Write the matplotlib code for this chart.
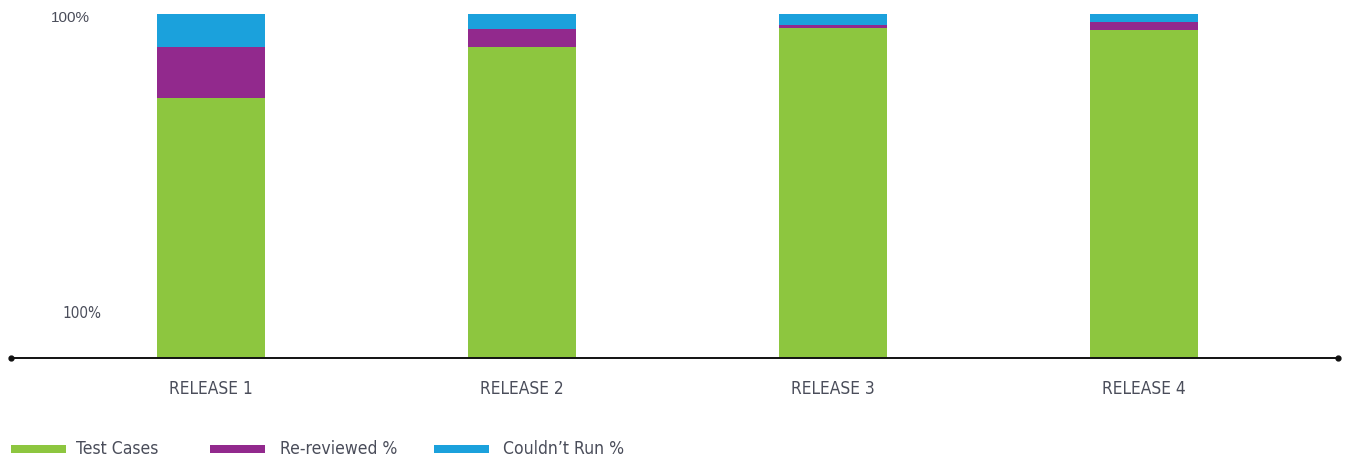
import matplotlib
matplotlib.use("Agg")
import matplotlib.pyplot as plt
from matplotlib.patches import Rectangle

# Release results, share of all cases (%)
releases = ["RELEASE 1", "RELEASE 2", "RELEASE 3", "RELEASE 4"]
test_cases = [75.6, 90.4, 95.9, 95.3]
re_reviewed = [14.8, 5.2, 0.9, 2.3]
couldnt_run = [9.6, 4.4, 3.2, 2.4]

series_names = ["Test Cases", "Re-reviewed %", "Couldn\u2019t Run %"]
colors = ["#8DC63F", "#92298D", "#1BA1DC"]
text_color = "#4A4D5A"

W, H = 1346, 459
fig = plt.figure(figsize=(W / 100, H / 100), dpi=100)

# axes: baseline at y=358 px, 100% at y=14 px, x from 11 to 1338 px
ax = fig.add_axes([11 / W, (H - 358) / H, (1338 - 11) / W, (358 - 14) / H])
ax.set_ylim(0, 100)
ax.set_xlim(-0.643, 3.624)

x = list(range(len(releases)))
bar_w = 108 / 311
bottom = [0] * len(releases)
for vals, col in zip([test_cases, re_reviewed, couldnt_run], colors):
    ax.bar(x, vals, width=bar_w, bottom=bottom, color=col, linewidth=0, zorder=2)
    bottom = [b + v for b, v in zip(bottom, vals)]

for s in ["top", "right", "left", "bottom"]:
    ax.spines[s].set_visible(False)
ax.set_yticks([])
ax.set_xticks(x)
ax.set_xticklabels(releases, fontsize=12.4, color=text_color,
                   family="DejaVu Sans", fontstretch="condensed")
ax.tick_params(axis="x", length=0, pad=16)

# baseline with dot ends
ax.plot([0, 1], [0, 0], transform=ax.transAxes, color="#111111", lw=1.4,
        marker="o", markersize=3.5, clip_on=False, zorder=3)

# side labels
fig.text(70 / W, 1 - 18 / H, "100%", ha="center", va="center",
         fontsize=11, color=text_color, family="Liberation Sans")
fig.text(82 / W, 1 - 313 / H, "100%", ha="center", va="center",
         fontsize=11, color=text_color, family="DejaVu Sans", fontstretch="condensed")

# legend row
patch_x = [11, 210, 434]
text_x = [76, 280, 503]
for px, tx, name, col in zip(patch_x, text_x, series_names, colors):
    fig.patches.append(Rectangle((px / W, 1 - 453 / H), 55 / W, 8 / H,
                                 transform=fig.transFigure, color=col, linewidth=0))
    fig.text(tx / W, 1 - 449 / H, name, ha="left", va="center",
             fontsize=12.6, color=text_color, family="DejaVu Sans", fontstretch="condensed")

fig.savefig("out.png", dpi=100)
